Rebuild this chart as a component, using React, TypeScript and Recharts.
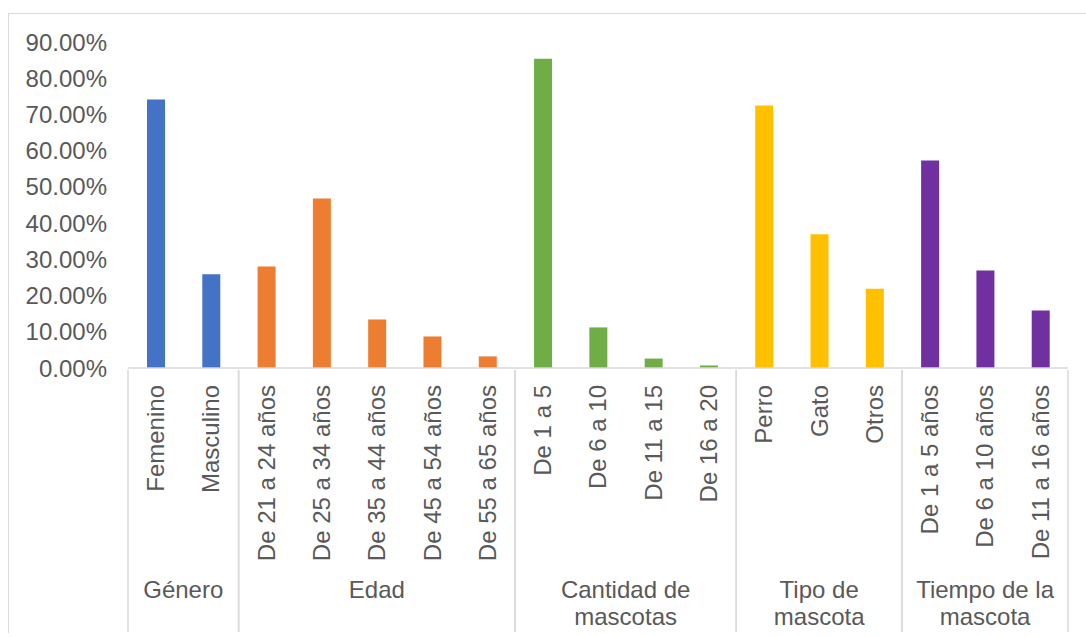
import { Bar, BarChart, Cell, XAxis, YAxis } from "recharts";

const categories = [
  "Femenino",
  "Masculino",
  "De 21 a 24 años",
  "De 25 a 34 años",
  "De 35 a 44 años",
  "De 45 a 54 años",
  "De 55 a 65 años",
  "De 1 a 5",
  "De 6 a 10",
  "De 11 a 15",
  "De 16 a 20",
  "Perro",
  "Gato",
  "Otros",
  "De 1 a 5 años",
  "De 6 a 10 años",
  "De 11 a 16 años",
];
const groupOf = [0, 0, 1, 1, 1, 1, 1, 2, 2, 2, 2, 3, 3, 3, 4, 4, 4];
const values = [
  0.741, 0.259, 0.28, 0.468, 0.134, 0.087, 0.032, 0.854, 0.112, 0.026, 0.007,
  0.725, 0.369, 0.219, 0.573, 0.269, 0.159,
];
const groupNames = [
  ["Género"],
  ["Edad"],
  ["Cantidad de", "mascotas"],
  ["Tipo de", "mascota"],
  ["Tiempo de la", "mascota"],
];
const groupColors = ["#4472C4", "#ED7D31", "#70AD47", "#FFC000", "#7030A0"];
const yTicks = [0, 0.1, 0.2, 0.3, 0.4, 0.5, 0.6, 0.7, 0.8, 0.9];

const data = categories.map((name, i) => ({ name, value: values[i] }));

const FONT = "'Liberation Sans', Arial, sans-serif";
const FS = 24;
const TEXT = "#595959";
const LINE = "#d9d9d9";
const BOTTOM = 632;

function CategoryTick(props: any) {
  const { x, y, payload } = props;
  const i = payload.index;
  const half = payload.offset || 27.65;
  const g = groupOf[i];
  const first = i === 0 || groupOf[i - 1] !== g;
  const last = i === categories.length - 1 || groupOf[i + 1] !== g;
  const count = groupOf.filter((v) => v === g).length;
  const left = x - half;
  const center = left + count * half;
  const lines = groupNames[g];
  const ty = y + 15;
  return (
    <g>
      <text
        x={x}
        y={ty}
        dy="0.35em"
        transform={`rotate(-90 ${x} ${ty})`}
        textAnchor="end"
        fill={TEXT}
        fontSize={FS}
        fontFamily={FONT}
      >
        {payload.value}
      </text>
      {first && (
        <line x1={left} x2={left} y1={y} y2={BOTTOM} stroke={LINE} strokeWidth={1.5} />
      )}
      {last && (
        <line x1={x + half} x2={x + half} y1={y} y2={BOTTOM} stroke={LINE} strokeWidth={1.5} />
      )}
      {first &&
        lines.map((t, k) => (
          <text
            key={k}
            x={center}
            y={590 + k * 27}
            dy="0.35em"
            textAnchor="middle"
            fill={TEXT}
            fontSize={FS}
            fontFamily={FONT}
          >
            {t}
          </text>
        ))}
    </g>
  );
}

export default function App() {
  return (
    <div
      style={{
        position: "absolute",
        left: 0,
        top: 0,
        width: 1086,
        height: 637,
        overflow: "hidden",
        background: "#fff",
      }}
    >
      <div
        style={{
          position: "absolute",
          left: 8,
          top: 13,
          width: 1200,
          height: BOTTOM - 13,
          borderLeft: `1.5px solid ${LINE}`,
          borderTop: `1.5px solid ${LINE}`,
        }}
      />
      <div style={{ position: "absolute", left: 0, top: 0 }}>
        <BarChart
          width={1086}
          height={637}
          data={data}
          margin={{ top: 42, right: 18, bottom: 0, left: 0 }}
          barSize={18}
        >
          <YAxis
            width={128}
            domain={[0, 0.9]}
            ticks={yTicks}
            axisLine={false}
            tickLine={false}
            tickSize={0}
            tickMargin={21}
            tickFormatter={(v: number) => `${(v * 100).toFixed(2)}%`}
            tick={{ fill: TEXT, fontSize: FS, fontFamily: FONT }}
          />
          <XAxis
            dataKey="name"
            height={269}
            interval={0}
            tickLine={false}
            tickSize={0}
            axisLine={{ stroke: LINE, strokeWidth: 1.5 }}
            tick={<CategoryTick />}
          />
          <Bar dataKey="value" isAnimationActive={false}>
            {data.map((_, i) => (
              <Cell key={i} fill={groupColors[groupOf[i]]} />
            ))}
          </Bar>
        </BarChart>
      </div>
    </div>
  );
}
